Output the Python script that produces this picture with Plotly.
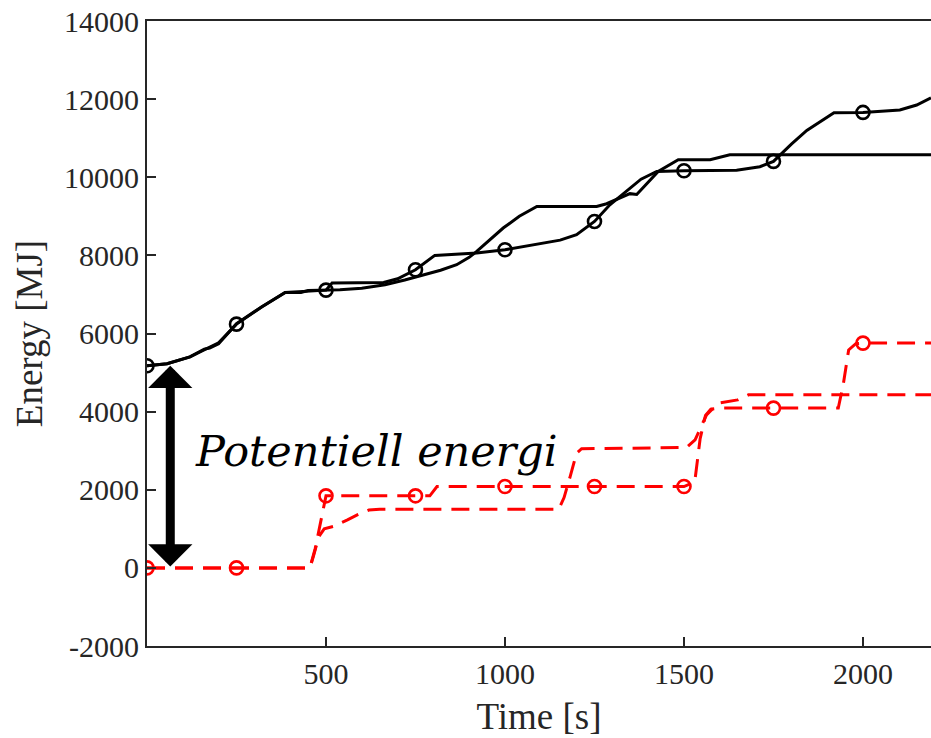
import plotly.graph_objects as go

# Time axis samples [s] and energy [MJ] for each curve
t_black_marked = [0, 56, 120, 168, 200, 250, 320, 386, 428, 500, 517, 661, 700, 750,
                  804, 884, 921, 1000, 1098, 1154, 1200, 1250, 1293, 1340, 1380, 1424,
                  1500, 1647, 1712, 1750, 1800, 1843, 1919, 2000, 2103, 2150, 2190]
e_black_marked = [5173, 5224, 5400, 5626, 5760, 6240, 6680, 7050, 7070, 7110, 7290, 7307, 7400, 7632,
                  8000, 8030, 8060, 8144, 8290, 8390, 8530, 8869, 9296, 9640, 9950, 10150,
                  10167, 10180, 10270, 10406, 10850, 11200, 11650, 11660, 11720, 11850, 12030]

t_black_plain = [0, 56, 120, 160, 175, 200, 250, 320, 386, 430, 450, 539, 600, 665, 720, 772,
                 820, 865, 900, 921, 960, 995, 1040, 1089, 1256, 1284, 1349, 1368, 1428,
                 1484, 1573, 1628, 2190]
e_black_plain = [5173, 5224, 5400, 5600, 5630, 5740, 6250, 6680, 7050, 7050, 7100, 7120, 7160, 7248, 7370, 7504,
                 7620, 7760, 7950, 8101, 8420, 8700, 9000, 9253, 9253, 9322, 9580, 9560, 10150,
                 10449, 10449, 10577, 10577]

t_red_marked = [0, 250, 455, 470, 485, 500, 750, 790, 810, 1000, 1250, 1500, 1530, 1545,
                1560, 1575, 1600, 1750, 1931, 1945, 1960, 1980, 2000, 2190]
e_red_marked = [0, 0, 0, 500, 1200, 1844, 1844, 1844, 2082, 2082, 2082, 2082, 2200, 3300,
                3900, 4060, 4090, 4090, 4090, 4700, 5580, 5740, 5754, 5754]

t_red_plain = [0, 455, 465, 480, 495, 520, 560, 590, 620, 650, 1150, 1165, 1182, 1200, 1214,
               1507, 1531, 1549, 1563, 1596, 1650, 1680, 2190]
e_red_plain = [0, 0, 300, 800, 1000, 1060, 1230, 1370, 1480, 1500, 1500, 1800, 2338, 2937, 3050,
               3081, 3278, 3619, 3918, 4218, 4300, 4430, 4430]

# Times at which the circle markers sit on the marked curves
marker_times = [0, 250, 500, 750, 1000, 1250, 1500, 1750, 2000]

x_tick_vals = [500, 1000, 1500, 2000]
y_tick_vals = [-2000, 0, 2000, 4000, 6000, 8000, 10000, 12000, 14000]
y_tick_text = ["-2000", "0", "2000", "4000", "6000", "8000", "10000", "12000", "14000"]

annotation_label = "Potentiell energi"


def pick(ts, es, wanted):
    lookup = dict(zip(ts, es))
    return [lookup[t] for t in wanted]


BLACK = "#000000"
RED = "#ff0000"
AXIS = "#262626"
DASH = "18px,10px"

fig = go.Figure()

fig.add_trace(go.Scatter(x=t_black_plain, y=e_black_plain, mode="lines",
                         line=dict(color=BLACK, width=3), hoverinfo="skip"))
fig.add_trace(go.Scatter(x=t_black_marked, y=e_black_marked, mode="lines",
                         line=dict(color=BLACK, width=3), hoverinfo="skip"))
fig.add_trace(go.Scatter(x=marker_times, y=pick(t_black_marked, e_black_marked, marker_times),
                         mode="markers",
                         marker=dict(symbol="circle-open", size=13, color=BLACK,
                                     line=dict(width=2.6, color=BLACK))))

fig.add_trace(go.Scatter(x=t_red_plain, y=e_red_plain, mode="lines",
                         line=dict(color=RED, width=3, dash=DASH), hoverinfo="skip"))
fig.add_trace(go.Scatter(x=t_red_marked, y=e_red_marked, mode="lines",
                         line=dict(color=RED, width=3, dash=DASH), hoverinfo="skip"))
fig.add_trace(go.Scatter(x=marker_times, y=pick(t_red_marked, e_red_marked, marker_times),
                         mode="markers",
                         marker=dict(symbol="circle-open", size=13, color=RED,
                                     line=dict(width=2.6, color=RED))))

# Double-headed arrow spanning the gap between the two starting energies
arrow_x = 65
top_e = e_black_marked[0]
bottom_e = e_red_marked[0]
fig.add_annotation(x=arrow_x, y=top_e, ax=arrow_x, ay=bottom_e,
                   xref="x", yref="y", axref="x", ayref="y",
                   text="", showarrow=True, arrowside="end+start",
                   arrowhead=1, startarrowhead=1,
                   arrowsize=0.82, startarrowsize=0.82,
                   arrowwidth=9, arrowcolor=BLACK, standoff=0, startstandoff=0)

fig.add_annotation(x=128, y=3000, xref="x", yref="y", text=annotation_label,
                   showarrow=False, xanchor="left", yanchor="middle",
                   font=dict(family="DejaVu Serif", size=43, color=BLACK, style="italic"))

serif = "Liberation Serif, Times New Roman, serif"

fig.update_layout(
    width=931, height=738,
    margin=dict(l=147, r=0, t=21, b=92),
    paper_bgcolor="white", plot_bgcolor="white",
    showlegend=False,
    font=dict(family=serif, size=30, color=AXIS),
    xaxis=dict(range=[0, 2190], tickvals=x_tick_vals,
               showgrid=False, zeroline=False,
               showline=True, linecolor=AXIS, linewidth=2, mirror=True,
               ticks="inside", ticklen=9, tickwidth=2, tickcolor=AXIS,
               tickfont=dict(family=serif, size=30, color=AXIS),
               title=dict(text="Time [s]", font=dict(family=serif, size=37, color=AXIS),
                          standoff=14)),
    yaxis=dict(range=[-2000, 14000], tickvals=y_tick_vals, ticktext=y_tick_text,
               showgrid=False, zeroline=False,
               showline=True, linecolor=AXIS, linewidth=2, mirror=False,
               ticks="inside", ticklen=9, tickwidth=2, tickcolor=AXIS,
               tickfont=dict(family=serif, size=30, color=AXIS),
               title=dict(text="Energy [MJ]", font=dict(family=serif, size=37, color=AXIS),
                          standoff=10)),
)

fig.write_html("out.html")
